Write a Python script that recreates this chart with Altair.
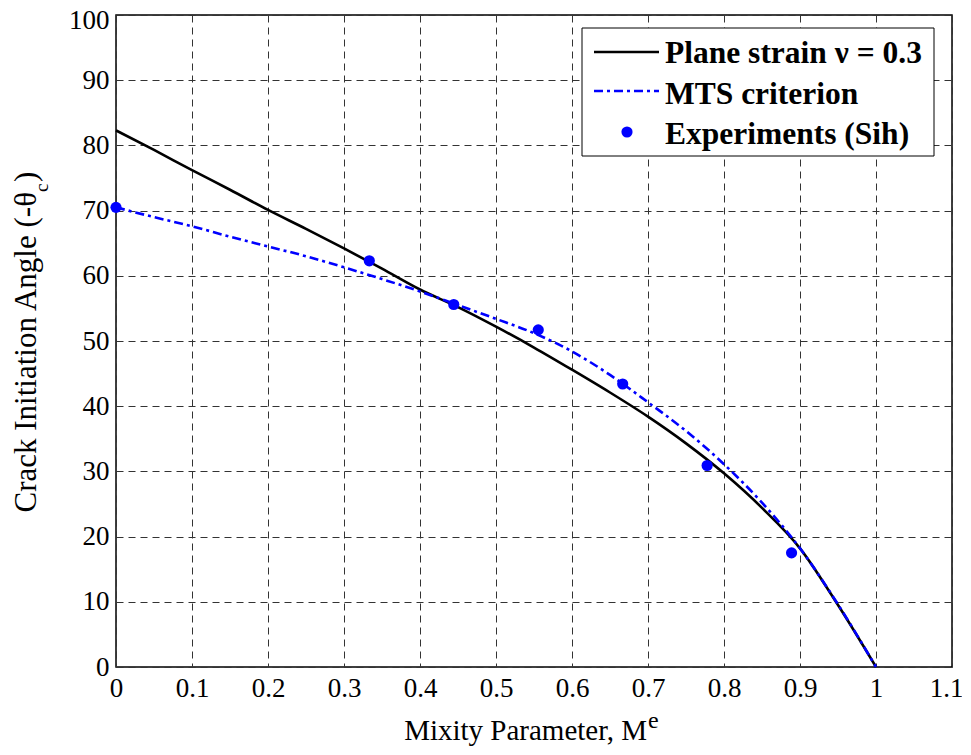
import altair as alt
import pandas as pd

# ---- data ----
mixity = [0.0, 0.05, 0.10, 0.15, 0.20, 0.25, 0.30, 0.35, 0.40, 0.45, 0.50,
          0.55, 0.60, 0.65, 0.70, 0.75, 0.80, 0.85, 0.90, 0.95, 1.00]
plane_strain = [82.3, 79.3, 76.2, 73.2, 70.1, 67.2, 64.2, 61.1, 57.9, 55.2, 52.2,
                49.0, 45.6, 42.1, 38.4, 34.3, 29.7, 24.4, 18.2, 9.5, 0.0]
mts = [70.5, 69.0, 67.6, 66.0, 64.5, 63.0, 61.3, 59.5, 57.6, 55.5, 53.4,
       51.2, 48.4, 44.8, 40.6, 36.2, 31.1, 25.2, 18.2, 9.6, 0.0]
exp_m = [0.0, 0.3333, 0.4444, 0.5556, 0.6667, 0.7778, 0.8889]
exp_theta = [70.5, 62.3, 55.6, 51.7, 43.4, 30.9, 17.5]

x_ticks = [0, 0.1, 0.2, 0.3, 0.4, 0.5, 0.6, 0.7, 0.8, 0.9, 1, 1.1]
y_ticks = [0, 10, 20, 30, 40, 50, 60, 70, 80, 90, 100]

legend_labels = ["Plane strain \u03bd = 0.3", "MTS criterion", "Experiments (Sih)"]
x_title = "Mixity Parameter, M"
x_title_sup = "e"
y_title = "Crack Initiation Angle (-\u03b8"
y_title_sub = "c"

FONT = "Liberation Serif"
BLUE = "#0000ff"
W, H = 836, 652

df_ps = pd.DataFrame({"m": mixity, "theta": plane_strain})
df_mts = pd.DataFrame({"m": mixity, "theta": mts})
df_exp = pd.DataFrame({"m": exp_m, "theta": exp_theta})
one = pd.DataFrame({"k": [0]})

grid_kw = dict(grid=True, gridColor="#333333", gridDash=[7, 5], gridWidth=1,
               ticks=False, domain=False, labelFont=FONT, labelFontSize=27,
               labelColor="black", labelFlush=False, labelOverlap=False, title=None)

X = alt.X("m:Q", scale=alt.Scale(domain=[0, 1.1], nice=False),
          axis=alt.Axis(values=x_ticks, format=".1~f", labelPadding=8,
                        labelOffset={"condition": {"test": "datum.value > 1.05", "value": -6},
                                     "value": 0},
                        **grid_kw))
Y = alt.Y("theta:Q", scale=alt.Scale(domain=[0, 100], nice=False),
          axis=alt.Axis(values=y_ticks, format="d", labelPadding=7,
                        labelOffset={"condition": {"test": "datum.value > 95", "value": 5},
                                     "value": 0},
                        **grid_kw))

ps_line = alt.Chart(df_ps).mark_line(color="black", strokeWidth=2.6,
                                     interpolate="monotone").encode(x=X, y=Y)
mts_line = alt.Chart(df_mts).mark_line(color=BLUE, strokeWidth=2.6, interpolate="monotone",
                                       strokeDash=[9, 4, 3, 4]).encode(x=X, y=Y)
exp_pts = alt.Chart(df_exp).mark_circle(color=BLUE, size=125, opacity=1).encode(x=X, y=Y)

# ---- legend (pixel positions relative to plot area) ----
box = alt.Chart(one).mark_rect(fill="white", stroke="black", strokeWidth=1).encode(
    x=alt.value(466), x2=alt.value(818), y=alt.value(13), y2=alt.value(141))
leg_l1 = alt.Chart(one).mark_rule(color="black", strokeWidth=2.6).encode(
    x=alt.value(478), x2=alt.value(543), y=alt.value(37))
leg_l2 = alt.Chart(one).mark_rule(color=BLUE, strokeWidth=2.6, strokeDash=[9, 4, 3, 4]).encode(
    x=alt.value(478), x2=alt.value(543), y=alt.value(76))
leg_pt = alt.Chart(one).mark_circle(color=BLUE, size=125, opacity=1).encode(
    x=alt.value(511), y=alt.value(117))
leg_texts = []
for lab, yb in zip(legend_labels, [48, 88.5, 129]):
    leg_texts.append(alt.Chart(one).mark_text(
        text=lab, font=FONT, fontSize=31.5, fontWeight="bold", align="left",
        baseline="alphabetic", color="black").encode(x=alt.value(549), y=alt.value(yb)))

# ---- axis titles ----
xt = alt.Chart(one).mark_text(text=x_title, font=FONT, fontSize=29, align="right",
                              baseline="alphabetic", color="black").encode(
    x=alt.value(531), y=alt.value(725))
xt_sup = alt.Chart(one).mark_text(text=x_title_sup, font=FONT, fontSize=24, align="left",
                                  baseline="alphabetic", color="black").encode(
    x=alt.value(532), y=alt.value(713))
yt = alt.Chart(one).mark_text(text=y_title, font=FONT, fontSize=31, align="right",
                              baseline="alphabetic", angle=270, color="black").encode(
    x=alt.value(-80), y=alt.value(177))
yt_sub = alt.Chart(one).mark_text(text=y_title_sub, font=FONT, fontSize=19, align="left",
                                  baseline="alphabetic", angle=270, color="black").encode(
    x=alt.value(-68.5), y=alt.value(177))
yt_end = alt.Chart(one).mark_text(text=")", font=FONT, fontSize=31, align="left",
                                  baseline="alphabetic", angle=270, color="black").encode(
    x=alt.value(-80), y=alt.value(167))

chart = alt.layer(
    ps_line, mts_line, exp_pts,
    box, leg_l1, leg_l2, leg_pt, *leg_texts,
    xt, xt_sup, yt, yt_sub, yt_end,
).properties(
    width=W, height=H,
    autosize=alt.AutoSizeParams(type="none"),
    padding={"left": 108, "top": 7, "right": 10, "bottom": 80},
    background="white",
).configure_view(stroke="black", strokeWidth=1.5).configure_axis(
    labelFont=FONT, labelFontSize=27, labelColor="black")

chart.save("out.html", embed_options={"renderer": "svg", "actions": False})
